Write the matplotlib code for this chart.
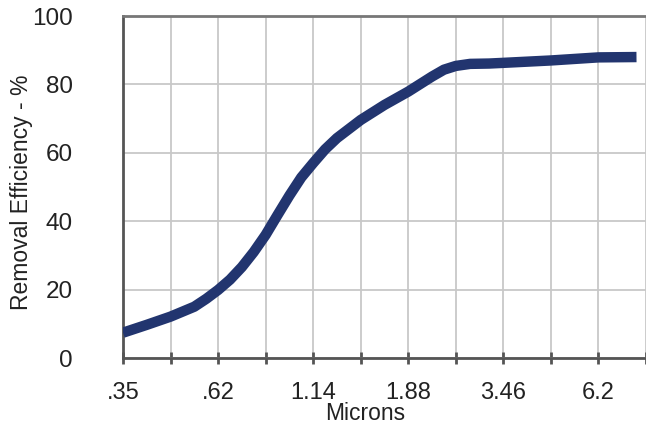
import matplotlib.pyplot as plt
import numpy as np

plt.rcParams['font.family'] = ['Liberation Sans', 'DejaVu Sans']

# tick labels of the size axis (every other tick is labelled)
tick_labels = ['.35', '', '.62', '', '1.14', '', '1.88', '', '3.46', '', '6.2', '']

# curve, x in tick-index units
pos = [0, 0.5, 1, 1.5, 1.75, 2, 2.25, 2.5, 2.75, 3, 3.25, 3.5, 3.75, 4, 4.25,
       4.5, 5, 5.5, 6, 6.5, 6.75, 7, 7.3, 7.7, 8, 9, 10, 10.8]
eff = [7.4, 9.7, 12.1, 15.0, 17.3, 19.9, 22.9, 26.6, 31.0, 36.0, 41.8, 47.5,
       52.8, 57.0, 61.0, 64.3, 69.6, 74.0, 77.9, 82.3, 84.3, 85.4, 86.0, 86.1,
       86.3, 87.0, 87.9, 88.0]

fig = plt.figure(figsize=(6.46, 4.29), dpi=100)
ax = fig.add_axes([0.1904, 0.1655, 0.8096, 0.7972])

ax.plot(pos, eff, color='#22356f', lw=7.5, solid_capstyle='butt',
        solid_joinstyle='round', zorder=3)

ax.set_xlim(0, 10.78)
ax.set_ylim(0, 100)
ax.set_xticks(np.arange(len(tick_labels)))
ax.set_xticklabels(tick_labels, fontsize=17)
ax.set_yticks([0, 20, 40, 60, 80, 100])
ax.set_yticklabels(['0', '20', '40', '60', '80', '100'], fontsize=17.5)

ax.grid(True, color='#c8c8c8', lw=1.3)
ax.set_axisbelow(True)

ax.tick_params(axis='x', direction='inout', length=9, width=2, color='#555555',
               pad=13, labelcolor='#222222')
ax.tick_params(axis='y', length=0, pad=36, labelcolor='#222222')

ax.spines['right'].set_visible(False)
ax.spines['top'].set_color('#777777')
ax.spines['top'].set_linewidth(2)
for s in ['left', 'bottom']:
    ax.spines[s].set_color('#555555')
    ax.spines[s].set_linewidth(2)

fig.text(365 / 646, 1 - 414 / 429, 'Microns', ha='center', va='center',
         fontsize=16.5, color='#222222')
fig.text(22 / 646, 1 - 192 / 429, 'Removal Efficiency - %', ha='center',
         va='center', rotation=90, fontsize=16.5, color='#222222')

fig.savefig('out.png', dpi=100)
